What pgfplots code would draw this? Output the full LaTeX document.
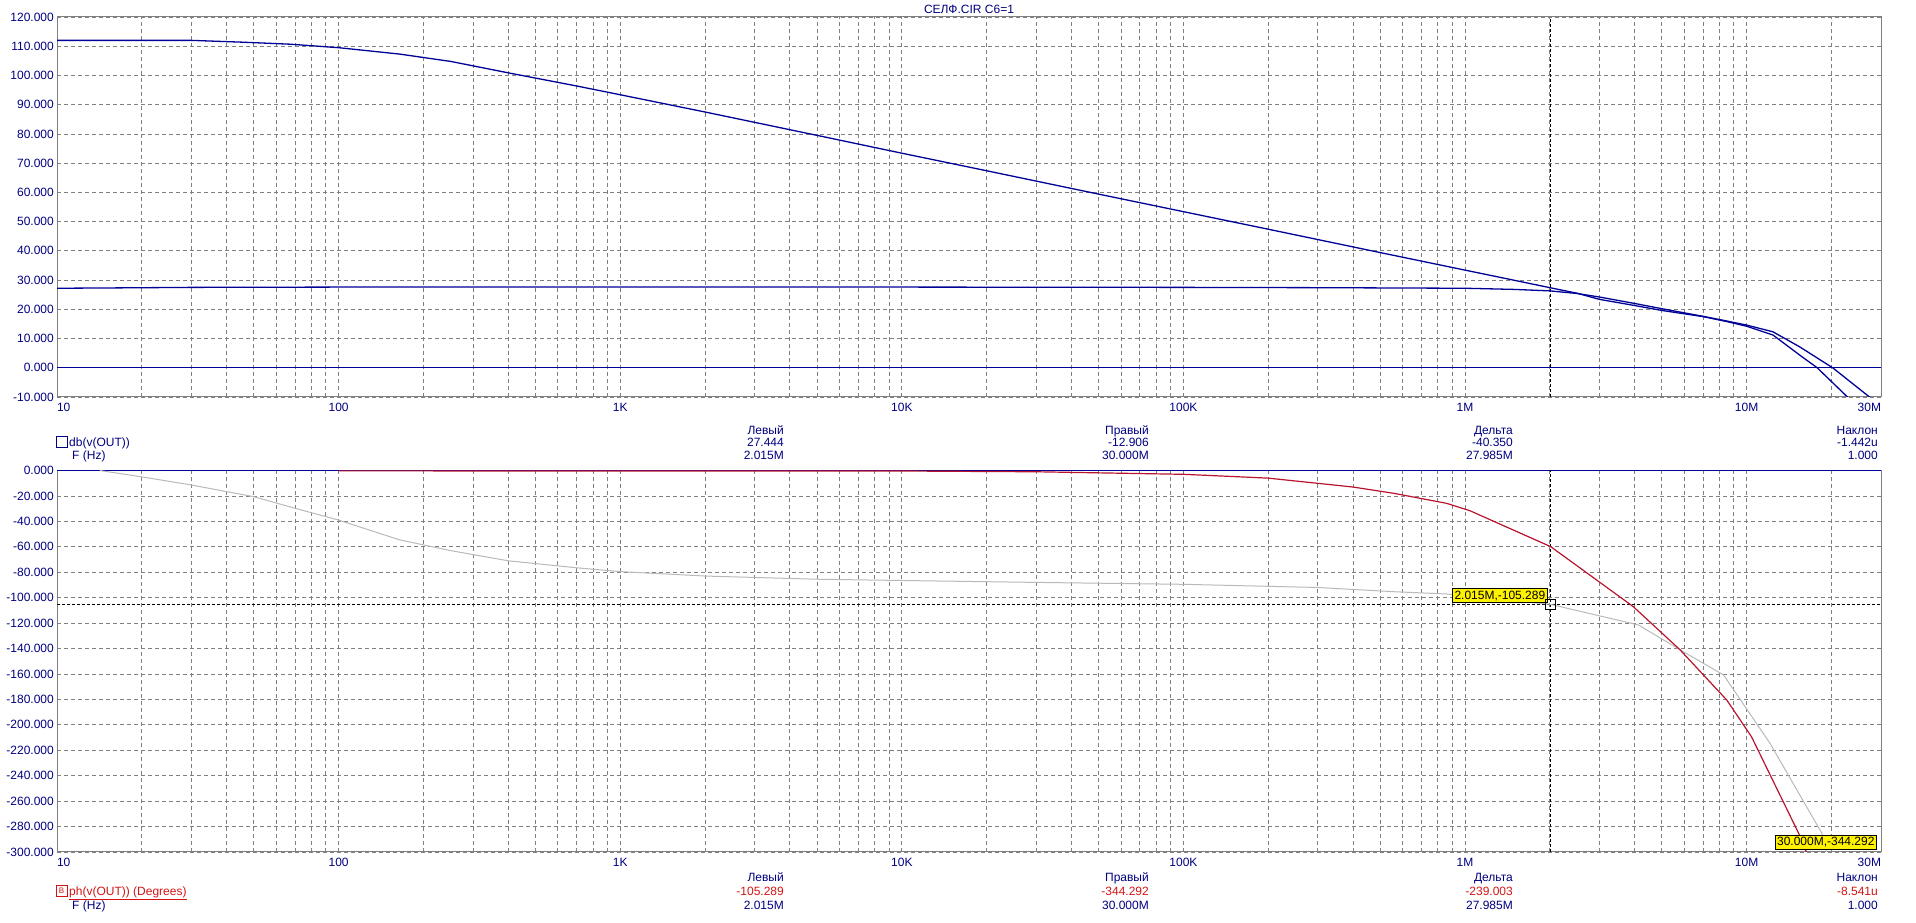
\documentclass[border=0pt]{standalone}
\usepackage{pgfplots}
\pgfplotsset{compat=1.18}
\usepackage{fontspec}
\setmainfont{Liberation Sans}
\definecolor{navyt}{RGB}{0,0,128}
\definecolor{curveblue}{RGB}{0,0,150}
\definecolor{curvered}{RGB}{185,20,45}
\definecolor{textred}{RGB}{210,20,20}
\definecolor{curvegray}{RGB}{185,185,185}
\definecolor{gridgray}{RGB}{128,128,128}
\definecolor{framegray}{RGB}{128,128,128}
\newcommand\lbl{\fontsize{12}{14}\selectfont}
\pgfplotsset{
 bodeaxis/.style={
  scale only axis, width=1824pt, xmin=10, xmax=3e7,
  axis line style={draw=framegray, line width=1pt},
  grid=both,
  major grid style={draw=gridgray, dash pattern=on 4pt off 3pt, line width=0.8pt},
  minor grid style={draw=gridgray, dash pattern=on 4pt off 3pt, line width=0.8pt},
  xtick={10,100,1000,1e4,1e5,1e6,1e7,3e7},
  xticklabels={\rlap{10},100,1K,10K,100K,1M,10M,\llap{30M}},
  minor xtick={20,30,40,50,60,70,80,90,200,300,400,500,600,700,800,900,2000,3000,4000,5000,6000,7000,8000,9000,2e4,3e4,4e4,5e4,6e4,7e4,8e4,9e4,2e5,3e5,4e5,5e5,6e5,7e5,8e5,9e5,2e6,3e6,4e6,5e6,6e6,7e6,8e6,9e6,2e7},
  major tick length=0pt, minor tick length=0pt,
  tick label style={font=\lbl, text=navyt, inner sep=0pt},
  xticklabel style={anchor=base, yshift=-14.3pt},
  yticklabel style={anchor=east, xshift=-3pt},
 },
}
\tikzset{cursorline/.style={black, line width=1.4pt, dash pattern=on 3pt off 2pt}}
\begin{document}
\begin{tikzpicture}
\path[use as bounding box] (0,0) rectangle (1916pt,923pt);
% ---------- upper: gain ----------
\begin{axis}[xmode=log, bodeaxis, at={(57pt,526pt)}, anchor=south west, height=380pt,
  ymin=-10, ymax=120, ytick={-10,0,...,120},
  yticklabels={-10.000,0.000,10.000,20.000,30.000,40.000,50.000,60.000,70.000,80.000,90.000,100.000,110.000,120.000}]
\addplot[curveblue, line width=1.2pt] coordinates {(10,0) (3e7,0)};
\addplot[cursorline] coordinates {(2.015e6,-10) (2.015e6,120)};
% open loop
\addplot[curveblue, line width=1.3pt] coordinates {
(10,112.0) (20,112.0) (30,112.0) (45,111.4) (67,110.7) (100,109.5) (165,107.3) (250,104.8) (400,100.9)
(700,96.4) (1000,93.4) (2000,87.5) (5000,79.5) (1e4,73.4) (2e4,67.4) (5e4,59.4) (1e5,53.4)
(2e5,47.4) (5e5,39.4) (1e6,33.4) (1.5e6,29.9) (2e6,27.4) (2.5e6,25.5) (3e6,23.4) (4e6,21.3)
(5e6,19.6) (7e6,17.5) (8.5e6,15.8) (1e7,14.2) (1.24e7,11.2) (1.54e7,4.4) (1.78e7,0) (2.28e7,-10) (2.6e7,-15)};
% closed loop
\addplot[curveblue, line width=1.3pt] coordinates {
(10,27.2) (15,27.3) (30,27.5) (100,27.6) (1e3,27.6) (1e4,27.6) (1e5,27.5) (3e5,27.4) (1e6,27.2)
(1.5e6,26.8) (2e6,26.3) (2.5e6,25.4) (3e6,24.2) (4e6,22.0) (5e6,20.2) (7e6,17.6) (8.5e6,16.0)
(1e7,14.6) (1.24e7,12.3) (1.54e7,7.2) (2.02e7,0) (2.73e7,-10) (3e7,-12.9)};
\end{axis}
% ---------- lower: phase ----------
\begin{axis}[xmode=log, bodeaxis, at={(57pt,71pt)}, anchor=south west, height=381.5pt,
  ymin=-300, ymax=0, ytick={-300,-280,...,0},
  yticklabels={-300.000,-280.000,-260.000,-240.000,-220.000,-200.000,-180.000,-160.000,-140.000,-120.000,-100.000,-80.000,-60.000,-40.000,-20.000,0.000}]
\addplot[curveblue, line width=1.5pt] coordinates {(10,0) (3e7,0)};
\addplot[cursorline] coordinates {(2.015e6,-300) (2.015e6,0)};
\addplot[cursorline, line width=1.2pt] coordinates {(10,-105.289) (3e7,-105.289)};
% gray: other run
\addplot[curvegray, line width=1pt] coordinates {
(14.2,0) (20,-5) (30,-11.4) (40,-16.6) (50,-20.6) (70,-29.7) (100,-39) (165,-54.6) (250,-63)
(400,-71) (700,-76.5) (1000,-79.5) (2000,-83) (5000,-85.5) (1e4,-86.5) (3e4,-88) (1e5,-89.5)
(3e5,-92) (5.57e5,-95.3) (8.59e5,-97.1) (2.015e6,-105.289) (4.13e6,-121.5) (5.8e6,-141)
(8.28e6,-160.8) (1.21e7,-214.5) (1.85e7,-285.3) (1.92e7,-300) (2.0e7,-315)};
% red: selected run
\addplot[curvered, line width=1.2pt] coordinates {
(100,-0.3) (1e4,-0.4) (3e4,-1) (1e5,-3) (2e5,-6) (4e5,-13) (5.57e5,-17.9) (8.59e5,-25.8)
(1.04e6,-31.6) (2.015e6,-59.9) (3.96e6,-107.1) (5.8e6,-141) (8.5e6,-180.5) (1.04e7,-209.3)
(1.53e7,-285.3) (1.63e7,-300) (1.7e7,-312)};
\addplot[only marks, mark=square, mark size=5pt, mark options={draw=black, fill=none, line width=1pt}] coordinates {(2.015e6,-105.289)};
\node[fill=yellow, draw=black, line width=1pt, anchor=south east, inner sep=2pt, font=\lbl, text=black, xshift=-3pt, yshift=1pt] at (axis cs:2.015e6,-105.289) {2.015M,-105.289};
\node[fill=yellow, draw=black, line width=1pt, anchor=south east, inner sep=2pt, font=\lbl, text=black, xshift=-4pt, yshift=2pt] at (axis cs:3e7,-300) {30.000M,-344.292};
\end{axis}
% ---------- title ----------
\node[font=\lbl, text=navyt, anchor=base] at (969pt,909.7pt) {СЕЛФ.CIR C6=1};
% ---------- upper readout ----------
\begin{scope}[every node/.style={font=\lbl, text=navyt, inner sep=0pt}]
\draw[navyt, line width=1pt] (56pt,475.5pt) rectangle (67pt,486.5pt);
\node[anchor=base west] at (69pt,476.7pt) {db(v(OUT))};
\node[anchor=base west] at (72pt,463.7pt) {F (Hz)};
\node[anchor=base east] at (784pt,488.7pt) {Левый};
\node[anchor=base east] at (784pt,476.7pt) {27.444};
\node[anchor=base east] at (784pt,463.7pt) {2.015M};
\node[anchor=base east] at (1149pt,488.7pt) {Правый};
\node[anchor=base east] at (1149pt,476.7pt) {-12.906};
\node[anchor=base east] at (1149pt,463.7pt) {30.000M};
\node[anchor=base east] at (1513pt,488.7pt) {Дельта};
\node[anchor=base east] at (1513pt,476.7pt) {-40.350};
\node[anchor=base east] at (1513pt,463.7pt) {27.985M};
\node[anchor=base east] at (1878pt,488.7pt) {Наклон};
\node[anchor=base east] at (1878pt,476.7pt) {-1.442u};
\node[anchor=base east] at (1878pt,463.7pt) {1.000};
% ---------- lower readout ----------
\draw[textred, line width=1pt] (56pt,26.5pt) rectangle (67pt,37.5pt);
\node[anchor=center, text=textred, font=\fontsize{8}{8}\selectfont] at (61.5pt,32pt) {B};
\node[anchor=base west, text=textred] at (69pt,27.7pt) {\underline{ph(v(OUT)) (Degrees)}};
\node[anchor=base west] at (72pt,13.7pt) {F (Hz)};
\node[anchor=base east] at (784pt,41.7pt) {Левый};
\node[anchor=base east, text=textred] at (784pt,27.7pt) {-105.289};
\node[anchor=base east] at (784pt,13.7pt) {2.015M};
\node[anchor=base east] at (1149pt,41.7pt) {Правый};
\node[anchor=base east, text=textred] at (1149pt,27.7pt) {-344.292};
\node[anchor=base east] at (1149pt,13.7pt) {30.000M};
\node[anchor=base east] at (1513pt,41.7pt) {Дельта};
\node[anchor=base east, text=textred] at (1513pt,27.7pt) {-239.003};
\node[anchor=base east] at (1513pt,13.7pt) {27.985M};
\node[anchor=base east] at (1878pt,41.7pt) {Наклон};
\node[anchor=base east, text=textred] at (1878pt,27.7pt) {-8.541u};
\node[anchor=base east] at (1878pt,13.7pt) {1.000};
\end{scope}
\end{tikzpicture}
\end{document}
